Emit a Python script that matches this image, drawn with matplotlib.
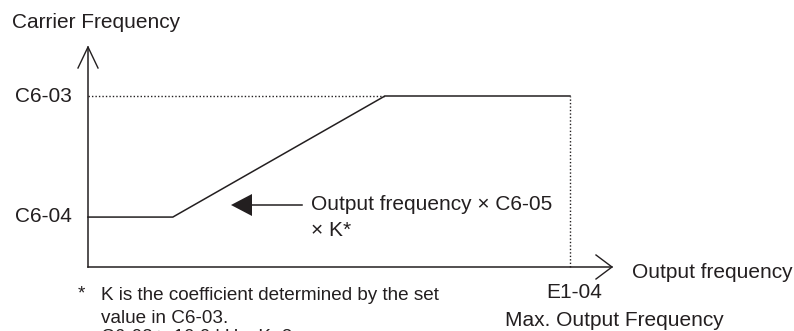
import numpy as np
import matplotlib
matplotlib.use("Agg")
import matplotlib.pyplot as plt

plt.rcParams['font.family'] = ['Liberation Sans', 'DejaVu Sans']

# conceptual data: output frequency (E1-04 = 1) vs carrier frequency (C6-03 = 1)
c6_04 = 0.292          # lower carrier level
c6_03 = 1.0            # upper carrier level
f_max = 1.0            # E1-04, max output frequency
ramp_start = 0.176
ramp_end = 0.616

curve_x = [0.0, ramp_start, ramp_end, f_max]
curve_y = [c6_04, c6_04, c6_03, c6_03]

ink = '#231f20'
W, H = 794, 331
# pixel -> data mapping (origin of the axes at pixel 88, 267)
X0, Y0, SX, SY = 88, 267, 482.0, 171.0
def px(x, y):
    return (x - X0) / SX, (Y0 - y) / SY

fig = plt.figure(figsize=(W / 100, H / 100), dpi=100)
ax = fig.add_axes([0, 0, 1, 1])
ax.set_xlim(px(0, 0)[0], px(W, 0)[0])
ax.set_ylim(px(0, H)[1], px(0, 0)[1])
ax.axis('off')

# axes with open arrow heads
y_top = px(0, 47)[1]
x_tip = px(612, 0)[0]
ax.plot([0, 0], [0, y_top], color=ink, lw=1.1)
ax.plot([0, x_tip], [0, 0], color=ink, lw=1.1)
hw, hl = 10 / SX, 21 / SY
ax.plot([-hw, 0, hw], [y_top - hl, y_top, y_top - hl], color=ink, lw=1.0)
hw2, hl2 = 12 / SY, 16 / SX
ax.plot([x_tip - hl2, x_tip, x_tip - hl2], [hw2, 0, -hw2], color=ink, lw=1.0)

# reference dotted lines
ax.plot([0, ramp_end], [c6_03, c6_03], color=ink, lw=1.0, ls=(0, (1, 1.5)))
ax.plot([f_max, f_max], [0, c6_03], color=ink, lw=1.0, ls=(0, (1, 1.5)))

# carrier frequency curve
ax.plot(curve_x, curve_y, color=ink, lw=1.1, solid_joinstyle='miter')

# filled arrow pointing at the ramp
tx, ty = px(231, 205)
bx, _ = px(252, 205)
ex, _ = px(302, 205)
th = 11 / SY
ax.fill([tx, bx, bx], [ty, ty + th, ty - th], color=ink, lw=0)
ax.plot([bx, ex], [ty, ty], color=ink, lw=1.1)

fs = 15
def label(x, y, s, ha='left', va='center', size=fs):
    ax.text(*px(x, y), s, fontsize=size, color=ink, ha=ha, va=va)

label(12, 23, 'Carrier Frequency')
label(72, 97, 'C6-03', ha='right')
label(72, 217, 'C6-04', ha='right')
label(311, 205, 'Output frequency \u00d7 C6-05')
label(311, 230, '\u00d7 K*')
label(632, 272, 'Output frequency')
label(574, 292, 'E1-04', ha='center')
label(614, 320, 'Max. Output Frequency', ha='center')

# footnote (last line is cut by the lower edge, as in the original)
fn = 13.6
label(78, 298, '*', va='baseline', size=fn)
label(101, 300, 'K is the coefficient determined by the set', va='baseline', size=fn)
label(101, 323, 'value in C6-03.', va='baseline', size=fn)
label(101, 342, 'C6-03 \u2265 10.0 kHz: K=3', va='baseline', size=fn)

fig.savefig('out.png', dpi=100)
